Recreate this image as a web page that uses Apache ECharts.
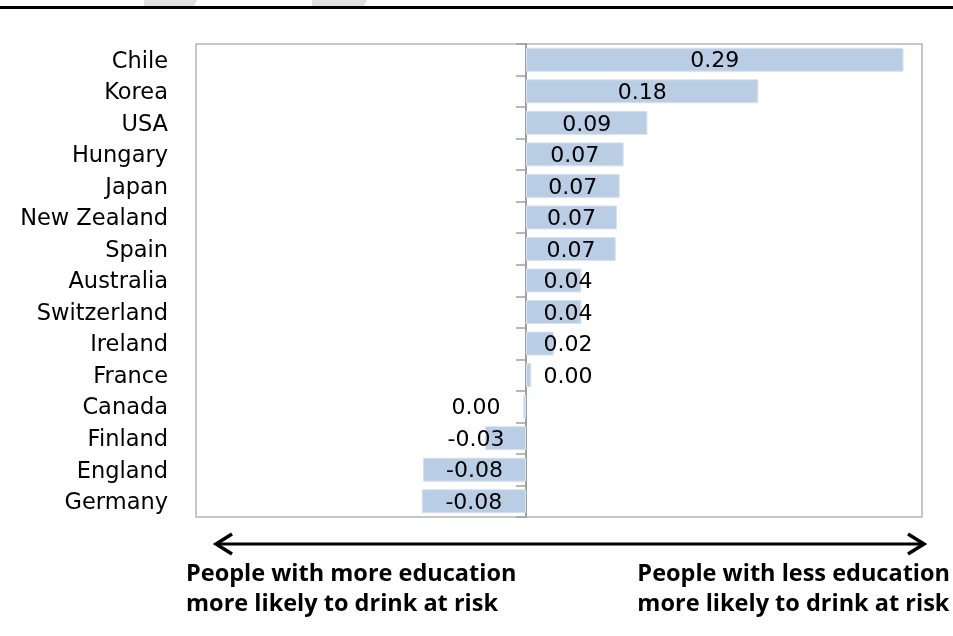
<!DOCTYPE html>
<html>
<head>
<meta charset="utf-8">
<script src="https://cdn.jsdelivr.net/npm/echarts@6/dist/echarts.min.js"></script>
<style>
html,body{margin:0;padding:0;background:#fff;}
#main{width:953px;height:636px;}
</style>
</head>
<body>
<div id="main"></div>
<script>
const countries = ['Chile','Korea','USA','Hungary','Japan','New Zealand','Spain','Australia','Switzerland','Ireland','France','Canada','Finland','England','Germany'];
const values = [0.286,0.176,0.092,0.074,0.071,0.069,0.068,0.042,0.042,0.021,0.004,-0.002,-0.031,-0.078,-0.079];
const leftNote = ['People with more education','more likely to drink at risk'];
const rightNote = ['People with less education','more likely to drink at risk'];

const chart = echarts.init(document.getElementById('main'), null, {renderer:'canvas'});
const FONT = 'DejaVu Sans';
function fmt(v){ const t = v.toFixed(2); return t === '-0.00' ? '0.00' : t; }

const baseOption = {
  animation:false,
  backgroundColor:'#ffffff',
  grid:{left:196,right:31,top:44,bottom:119,show:true,borderColor:'#b5b5b5',borderWidth:1.5,backgroundColor:'transparent'},
  xAxis:{type:'value',min:-0.25,max:0.30,show:false,splitLine:{show:false}},
  yAxis:[
    {type:'category',data:countries,inverse:true,position:'left',
     axisLine:{show:false,onZero:false},axisTick:{show:false},
     axisLabel:{margin:28,formatter:v=>'{c|'+v+'}',
       rich:{c:{fontFamily:FONT,fontSize:22.5,color:'#000',padding:[4,0,0,0]}}}},
    {type:'category',data:countries,inverse:true,position:'right',
     axisLine:{show:true,onZero:true,lineStyle:{color:'#a0a0a0',width:2}},
     axisTick:{show:true,inside:true,length:10,lineStyle:{color:'#a0a0a0',width:1.5}},
     axisLabel:{show:false}}
  ],
  series:[{
    type:'bar',
    yAxisIndex:0,
    data:values,
    barCategoryGap:'24%',
    itemStyle:{color:'#b9cde5',borderColor:'#d6e2f0',borderWidth:1},
    label:{show:true,position:'inside',fontFamily:FONT,fontSize:22,color:'#000',
      textBorderWidth:0,formatter:p=>fmt(p.value)}
  }],
  graphic:[
    {type:'rect',shape:{x:0,y:6,width:953,height:3},style:{fill:'#000'}},
    {type:'polygon',shape:{points:[[144,0],[197,0],[194,6],[144,6]]},style:{fill:'#e0e0e0'}},
    {type:'polygon',shape:{points:[[312,0],[367,0],[364,6],[312,6]]},style:{fill:'#e0e0e0'}},
    {type:'line',shape:{x1:216,y1:544,x2:924,y2:544},style:{stroke:'#000',lineWidth:3}},
    {type:'polyline',shape:{points:[[232,534],[216,544],[232,554]]},style:{stroke:'#000',lineWidth:3.5,fill:null}},
    {type:'polyline',shape:{points:[[908,534],[924,544],[908,554]]},style:{stroke:'#000',lineWidth:3.5,fill:null}},
    {type:'text',left:186,top:559,style:{text:leftNote.join('\n'),font:'bold 23.5px "Open Sans"',lineHeight:30,fill:'#000',align:'left'}},
    {type:'text',right:3,top:559,style:{text:rightNote.join('\n'),font:'bold 23.5px "Open Sans"',lineHeight:30,fill:'#000',align:'right'}}
  ]
};
chart.setOption(baseOption);

// Adjust label placement so labels do not cross the zero axis (like the original)
const zeroPx = chart.convertToPixel({xAxisIndex:0},0);
const data = values.map(v=>{
  const endPx = chart.convertToPixel({xAxisIndex:0},v);
  const center = (zeroPx+endPx)/2;
  let target = center;
  if (v >= 0) target = Math.max(center, zeroPx+42);
  else target = Math.min(center, zeroPx-50);
  return {value:v,label:{offset:[target-center,2]}};
});
chart.setOption({series:[{data:data}]});
</script>
</body>
</html>
